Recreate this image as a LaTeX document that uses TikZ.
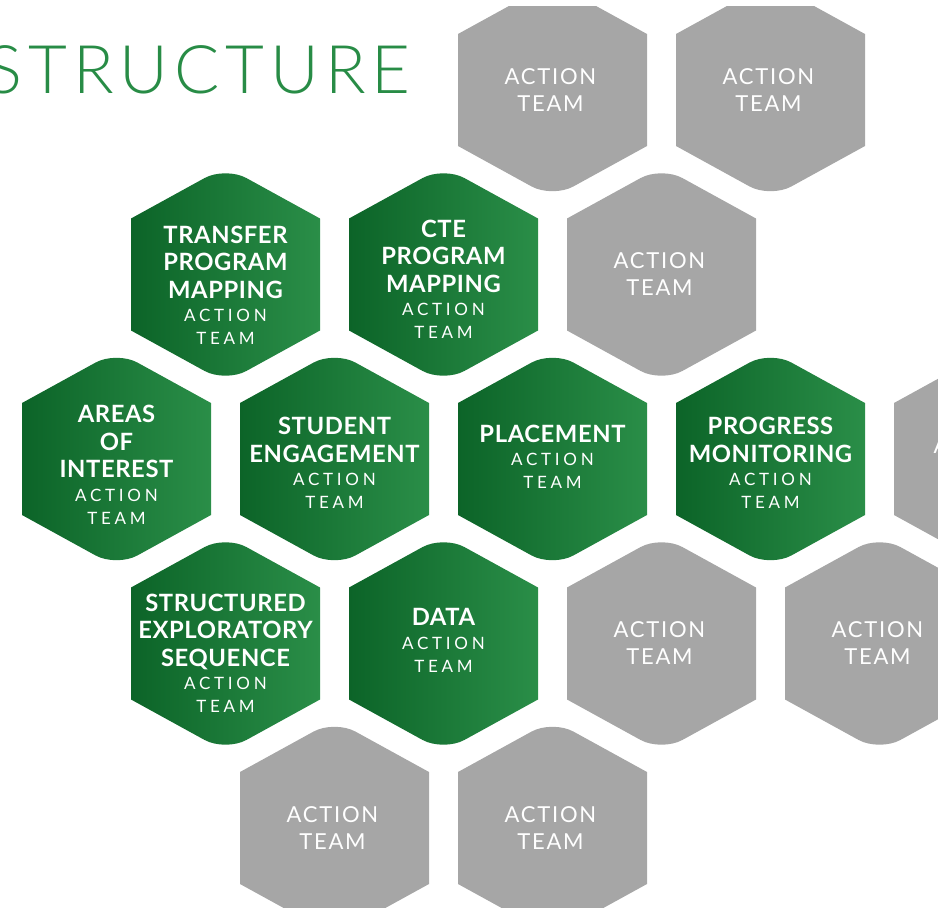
\documentclass[tikz,border=0pt]{standalone}
\usepackage{fontspec}
\usetikzlibrary{calc}
\setmainfont{Lato}
\newfontfamily\hexbold{Lato}[LetterSpace=2.5]
\newfontfamily\actfont{Lato}[LetterSpace=22]
\newfontfamily\grayfont{Lato}[LetterSpace=8]
\newfontfamily\titlefont{Lato Light}[LetterSpace=9]
\definecolor{gdark}{RGB}{12,100,40}
\definecolor{glight}{RGB}{42,142,72}
\definecolor{hexgray}{RGB}{166,166,166}
\definecolor{titlegreen}{RGB}{40,140,70}
\newcommand\actline[1]{{\actfont\mdseries\fontsize{17}{23}\selectfont #1}}
\tikzset{
  hexg/.pic={\path[left color=gdark,right color=glight,draw=none]
    (-94.5,0) -- (-94.5,-56) -- (-21,-96.4) .. controls (-9.45,-102.8) and (9.45,-102.8) .. (21,-96.4)
    -- (94.5,-56) -- (94.5,56) -- (21,96.4) .. controls (9.45,102.8) and (-9.45,102.8) .. (-21,96.4)
    -- (-94.5,56) -- cycle;},
  hexgr/.pic={\path[fill=hexgray,draw=none]
    (-94.5,0) -- (-94.5,-56) -- (-21,-96.4) .. controls (-9.45,-102.8) and (9.45,-102.8) .. (21,-96.4)
    -- (94.5,-56) -- (94.5,56) -- (21,96.4) .. controls (9.45,102.8) and (-9.45,102.8) .. (-21,96.4)
    -- (-94.5,56) -- cycle;},
  greentext/.style={text=white,align=center,inner sep=0pt,
    font=\hexbold\bfseries\fontsize{23.8}{27.5}\selectfont},
  graytext/.style={text=white,align=center,inner sep=0pt,
    font=\grayfont\fontsize{22}{27}\selectfont},
}
\begin{document}
\begin{tikzpicture}[x=1pt,y=-1pt]
\useasboundingbox (0,0) rectangle (938,908);
\clip (0,6) rectangle (938,908);
% hex centres
\coordinate (r1a) at (552.5,90);
\coordinate (r1b) at (770.5,90);
\coordinate (r2a) at (225.5,274.5);
\coordinate (r2b) at (443.5,274.5);
\coordinate (r2c) at (661.5,274.5);
\coordinate (r3a) at (116.5,459);
\coordinate (r3b) at (334.5,459);
\coordinate (r3c) at (552.5,459);
\coordinate (r3d) at (770.5,459);
\coordinate (r3e) at (988.5,459);
\coordinate (r4a) at (225.5,643.5);
\coordinate (r4b) at (443.5,643.5);
\coordinate (r4c) at (661.5,643.5);
\coordinate (r4d) at (879.5,643.5);
\coordinate (r5a) at (334.5,828);
\coordinate (r5b) at (552.5,828);
% grey hexes
\foreach \c in {r1a,r1b,r2c,r3e,r4c,r4d,r5a,r5b} {\pic at (\c) {hexgr};}
% green hexes
\foreach \c in {r2a,r2b,r3a,r3b,r3c,r3d,r4a,r4b} {\pic at (\c) {hexg};}
% grey texts
\node[graytext] (t1a) at ($(r1a)+(-2,0)$) {ACTION\\TEAM};
\node[graytext] (t1b) at ($(r1b)+(-2,0)$) {ACTION\\TEAM};
\node[graytext] (t2c) at ($(r2c)+(-2,0)$) {ACTION\\TEAM};
\node[graytext] (t3e) at ($(r3e)+(-9,0)$) {ACTION\\TEAM};
\node[graytext] (t4c) at ($(r4c)+(-2,0)$) {ACTION\\TEAM};
\node[graytext] (t4d) at ($(r4d)+(-2,0)$) {ACTION\\TEAM};
\node[graytext] (t5a) at ($(r5a)+(-2,0)$) {ACTION\\TEAM};
\node[graytext] (t5b) at ($(r5b)+(-2,0)$) {ACTION\\TEAM};
% green texts
\node[greentext] (t2a) at ($(r2a)+(0,11)$) {TRANSFER\\PROGRAM\\MAPPING\\[-4pt]\actline{ACTION}\\[-4.5pt]\actline{TEAM}};
\node[greentext] (t2b) at ($(r2b)+(0,5)$) {CTE\\PROGRAM\\MAPPING\\[-4pt]\actline{ACTION}\\[-4.5pt]\actline{TEAM}};
\node[greentext] (t3a) at ($(r3a)+(0,6)$) {AREAS\\OF\\INTEREST\\[-4pt]\actline{ACTION}\\[-4.5pt]\actline{TEAM}};
\node[greentext] (t3b) at ($(r3b)+(0,4)$) {STUDENT\\ENGAGEMENT\\[-4pt]\actline{ACTION}\\[-4.5pt]\actline{TEAM}};
\node[greentext] (t3c) at ($(r3c)+(0,-2)$) {PLACEMENT\\[-4pt]\actline{ACTION}\\[-4.5pt]\actline{TEAM}};
\node[greentext] (t3d) at ($(r3d)+(0,4)$) {PROGRESS\\MONITORING\\[-4pt]\actline{ACTION}\\[-4.5pt]\actline{TEAM}};
\node[greentext] (t4a) at ($(r4a)+(0,10)$) {STRUCTURED\\EXPLORATORY\\SEQUENCE\\[-4pt]\actline{ACTION}\\[-4.5pt]\actline{TEAM}};
\node[greentext] (t4b) at ($(r4b)+(0,-3)$) {DATA\\[-4pt]\actline{ACTION}\\[-4.5pt]\actline{TEAM}};
% title
\node[anchor=base east,inner sep=0pt,text=titlegreen,font=\titlefont\fontsize{67}{67}\selectfont] (title) at (411,93) {STRUCTURE};
\end{tikzpicture}
\end{document}
